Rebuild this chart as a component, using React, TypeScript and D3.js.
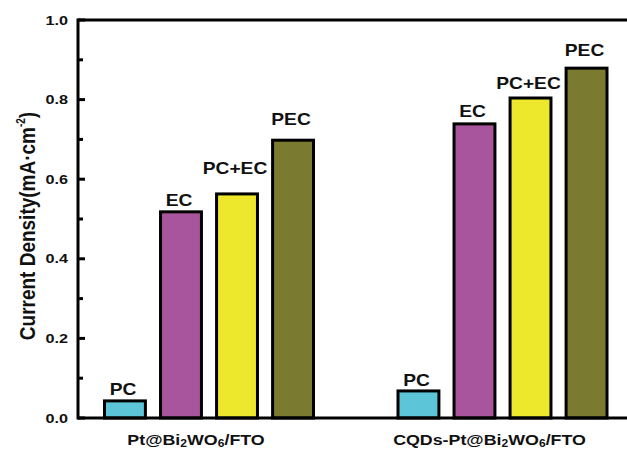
import React from "react";
import * as d3 from "d3";

const groups = ["Pt@Bi2WO6/FTO", "CQDs-Pt@Bi2WO6/FTO"];
const methods = ["PC", "EC", "PC+EC", "PEC"];
const group1Values = [0.043, 0.518, 0.563, 0.698];
const group2Values = [0.068, 0.739, 0.804, 0.879];
const yTicks = [0, 0.2, 0.4, 0.6, 0.8, 1.0];
const yMinorTicks = [0.1, 0.3, 0.5, 0.7, 0.9];
const colors = ["#5cc6d8", "#a9559e", "#ede82c", "#7b7a31"];

const W = 627, H = 451;
const left = 78, top = 20, bottom = 418;
const SX = 1.2; // horizontal text stretch of the reference
// label lift above bar tops (px), per group / bar
const labelLift = [
  [6, 6, 20, 15],
  [5, 7, 9, 12],
];

export default function App() {
  const y = d3.scaleLinear().domain([0, 1]).range([bottom, top]);
  const x0 = d3.scalePoint<string>().domain(groups).range([209, 502.5]);
  const x1 = d3.scaleBand<string>().domain(methods).range([-104.5, 104.5]).paddingInner(0.27).paddingOuter(0);
  const values = [group1Values, group2Values];
  const font = "'Liberation Sans', Arial, sans-serif";

  const renderGroupLabel = (g: string) => {
    const runs: { t: string; sub: boolean }[] = [];
    const re = /(Bi)(2)|(WO)(6)/g;
    let last = 0;
    let m: RegExpExecArray | null;
    while ((m = re.exec(g))) {
      const base = m[1] || m[3];
      const sub = m[2] || m[4];
      runs.push({ t: g.slice(last, m.index) + base, sub: false });
      runs.push({ t: sub, sub: true });
      last = m.index + m[0].length;
    }
    if (last < g.length) runs.push({ t: g.slice(last), sub: false });
    let prevSub = false;
    return runs
      .filter((r) => r.t.length > 0)
      .map((r, i) => {
        const dy = r.sub ? 1.5 : prevSub ? -1.5 : 0;
        prevSub = r.sub;
        return (
          <tspan key={i} fontSize={r.sub ? 10.5 : 15.5} dy={dy}>
            {r.t}
          </tspan>
        );
      });
  };

  return (
    <svg width={W} height={H} style={{ position: "absolute", left: 0, top: 0, background: "#fff" }} fontFamily={font}>
      {groups.map((g, gi) => (
        <g key={g} transform={`translate(${x0(g)},0)`}>
          {methods.map((m, mi) => {
            const v = values[gi][mi];
            const bx = x1(m)!;
            const bw = x1.bandwidth();
            return (
              <g key={m}>
                <rect x={bx} y={y(v)} width={bw} height={bottom - y(v)} fill={colors[mi]} stroke="#000" strokeWidth={3} />
                <g transform={`translate(${bx + bw / 2 - 2},${y(v) - labelLift[gi][mi]}) scale(${SX},1)`}>
                  <text textAnchor="middle" fontWeight="bold" fontSize={16} fill="#111">{m}</text>
                </g>
              </g>
            );
          })}
          <g transform={`translate(-13,445) scale(1.15,1)`}>
            <text x={0} y={0} textAnchor="middle" fontWeight="bold" fontSize={15.5} fill="#111">{renderGroupLabel(g)}</text>
          </g>
        </g>
      ))}
      <line x1={left} x2={W} y1={top} y2={top} stroke="#000" strokeWidth={3} />
      <line x1={left} x2={W} y1={bottom} y2={bottom} stroke="#000" strokeWidth={3} />
      <line x1={left} x2={left} y1={top - 1.5} y2={bottom + 1.5} stroke="#000" strokeWidth={3} />
      {yTicks.map((t) => (
        <g key={t}>
          <line x1={left} x2={left + 7} y1={y(t)} y2={y(t)} stroke="#000" strokeWidth={3} />
          <g transform={`translate(68,${y(t) + 4.5}) scale(${SX},1)`}>
            <text textAnchor="end" fontWeight="bold" fontSize={13.5} fill="#111">{t.toFixed(1)}</text>
          </g>
        </g>
      ))}
      {yMinorTicks.map((t) => (
        <line key={t} x1={left} x2={left + 5} y1={y(t)} y2={y(t)} stroke="#000" strokeWidth={3} />
      ))}
      <g transform={`translate(35,226) scale(${SX},1) rotate(-90)`}>
        <text textAnchor="middle" fontWeight="bold" fontSize={19} fill="#111">
          Current Density(mA·cm<tspan fontSize={10} dy={-8}>-2</tspan><tspan dy={8}>)</tspan>
        </text>
      </g>
    </svg>
  );
}
